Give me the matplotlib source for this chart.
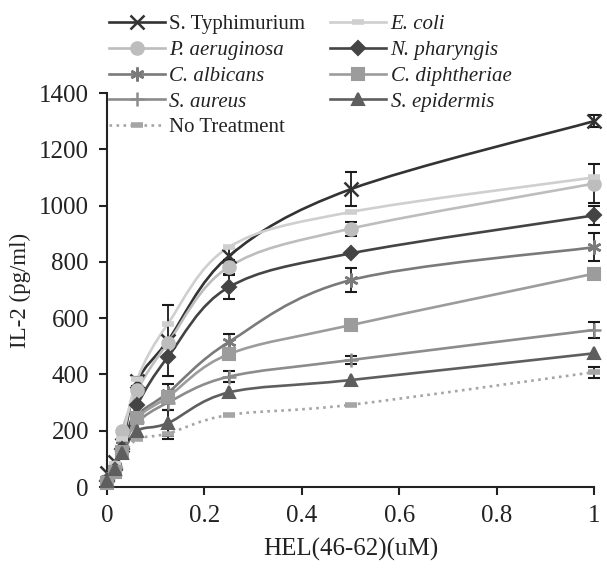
import numpy as np
import matplotlib
matplotlib.use("Agg")
import matplotlib.pyplot as plt
from matplotlib.path import Path
from matplotlib.patches import PathPatch
from matplotlib.lines import Line2D

plt.rcParams['font.family'] = ['Liberation Serif', 'DejaVu Serif']

# HEL(46-62) concentrations (uM)
conc = [0, 0.015625, 0.03125, 0.0625, 0.125, 0.25, 0.5, 1]

# IL-2 (pg/ml)
s_typhimurium = [50, 90, 150, 375, 520, 820, 1058, 1300]
e_coli = [30, 80, 170, 385, 580, 852, 977, 1100]
p_aeruginosa = [25, 70, 200, 345, 512, 782, 918, 1078]
n_pharyngis = [20, 60, 135, 292, 462, 710, 830, 965]
c_albicans = [30, 75, 150, 255, 335, 515, 735, 852]
c_diphtheriae = [15, 55, 125, 245, 320, 472, 575, 758]
s_aureus = [20, 70, 140, 230, 300, 392, 451, 558]
s_epidermis = [20, 65, 120, 200, 227, 336, 380, 475]
no_treatment = [10, 50, 110, 170, 190, 256, 292, 408]

# error bars (0 = none drawn)
err_s_typhimurium = [0, 0, 0, 15, 125, 30, 60, 22]
err_e_coli = [0, 0, 0, 0, 0, 0, 0, 0]
err_p_aeruginosa = [0, 0, 0, 0, 0, 25, 25, 70]
err_n_pharyngis = [0, 0, 0, 0, 0, 42, 0, 35]
err_c_albicans = [0, 0, 0, 0, 0, 30, 42, 50]
err_c_diphtheriae = [0, 0, 0, 0, 45, 0, 0, 0]
err_s_aureus = [0, 0, 0, 0, 0, 20, 15, 30]
err_s_epidermis = [0, 0, 0, 0, 45, 0, 0, 0]
err_no_treatment = [0, 0, 0, 0, 20, 0, 0, 20]

series = [
    ("S. Typhimurium", s_typhimurium, err_s_typhimurium, "#333333", "x", "-", False),
    ("P. aeruginosa", p_aeruginosa, err_p_aeruginosa, "#bdbdbd", "o", "-", True),
    ("C. albicans", c_albicans, err_c_albicans, "#7a7a7a", (6, 2, 0), "-", True),
    ("S. aureus", s_aureus, err_s_aureus, "#8c8c8c", "+", "-", True),
    ("No Treatment", no_treatment, err_no_treatment, "#a5a5a5", "_", ":", False),
    ("E. coli", e_coli, err_e_coli, "#cfcfcf", "_", "-", True),
    ("N. pharyngis", n_pharyngis, err_n_pharyngis, "#444444", "D", "-", True),
    ("C. diphtheriae", c_diphtheriae, err_c_diphtheriae, "#9c9c9c", "s", "-", True),
    ("S. epidermis", s_epidermis, err_s_epidermis, "#5e5e5e", "^", "-", True),
]


def smooth_path(x, y):
    # Bezier curve through the points, like a spreadsheet "smoothed line"
    pts = np.column_stack([x, y]).astype(float)
    n = len(pts)
    verts = [pts[0]]
    codes = [Path.MOVETO]
    for i in range(n - 1):
        p0 = pts[i - 1] if i > 0 else pts[i]
        p1 = pts[i]
        p2 = pts[i + 1]
        p3 = pts[i + 2] if i + 2 < n else pts[i + 1]
        c1 = p1 + (p2 - p0) / 6.0
        c2 = p2 - (p3 - p1) / 6.0
        verts += [c1, c2, p2]
        codes += [Path.CURVE4] * 3
    return Path(verts, codes)


fig = plt.figure(figsize=(6.07, 5.72), dpi=100)
ax = fig.add_axes([0.1763, 0.1486, 0.8023, 0.6888])

handles = []
for name, vals, err, col, mk, ls, ital in series:
    patch = PathPatch(smooth_path(conc, vals), facecolor="none", edgecolor=col,
                      lw=1.9, linestyle=ls, zorder=2)
    ax.add_patch(patch)
    x_e = [c for c, e in zip(conc, err) if e > 0]
    y_e = [v for v, e in zip(vals, err) if e > 0]
    e_e = [e for e in err if e > 0]
    if x_e:
        ax.errorbar(x_e, y_e, yerr=e_e, fmt="none", ecolor="#1a1a1a", elinewidth=1.3,
                    capsize=4, capthick=1.5, zorder=3, clip_on=False)
    ms = 9
    mew = 1.5
    if mk in ("x", "+", (6, 2, 0)):
        mew = 1.8
        ms = 10
    if mk == "_":
        mew = 4
        ms = 9
    if mk == "D":
        ms = 7.5
    ax.plot(conc, vals, linestyle="none", marker=mk, color=col, markersize=ms,
            markeredgewidth=mew, zorder=4, clip_on=False)
    handles.append(Line2D([], [], color=col, lw=1.9, linestyle=ls, marker=mk,
                          markersize=ms, markeredgewidth=mew, label=name))

ax.set_xlim(0, 1)
ax.set_ylim(0, 1400)
ax.set_xticks([0, 0.2, 0.4, 0.6, 0.8, 1])
ax.set_xticklabels(["0", "0.2", "0.4", "0.6", "0.8", "1"])
ax.set_yticks(range(0, 1401, 200))
ax.spines["top"].set_visible(False)
ax.spines["right"].set_visible(False)
ax.spines["left"].set_linewidth(1.5)
ax.spines["bottom"].set_linewidth(1.5)
ax.spines["left"].set_color("#222222")
ax.spines["bottom"].set_color("#222222")
ax.tick_params(axis="both", direction="out", length=6, width=1.5, labelsize=18,
               colors="#222222", pad=7)
ax.set_xlabel("HEL(46-62)(uM)", fontsize=18, color="#222222", labelpad=8)
ax.set_ylabel("IL-2 (pg/ml)", fontsize=16.5, color="#222222", labelpad=6)

leg = fig.legend(handles=handles, ncol=2, loc="upper left",
                 bbox_to_anchor=(0.155, 1.0), frameon=False, fontsize=15,
                 handlelength=2.7, handletextpad=0.2, columnspacing=1.2,
                 labelspacing=0.3, borderaxespad=0.3)
for txt, s in zip(leg.get_texts(), series):
    txt.set_color("#222222")
    if s[6]:
        txt.set_fontstyle("italic")

fig.savefig("out.png", dpi=100)
